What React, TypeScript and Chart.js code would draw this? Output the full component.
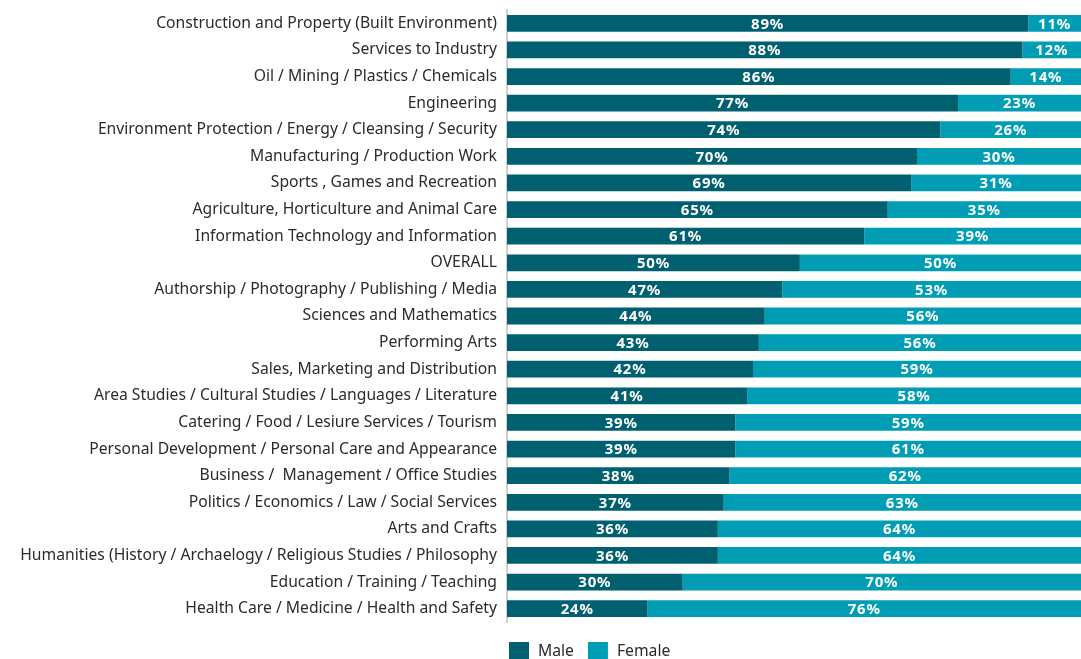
import React, { useEffect, useRef } from "react";
import { Chart, registerables } from "chart.js";

Chart.register(...registerables);

const categories: string[] = [
  "Construction and Property (Built Environment)",
  "Services to Industry",
  "Oil / Mining / Plastics / Chemicals",
  "Engineering",
  "Environment Protection / Energy / Cleansing / Security",
  "Manufacturing / Production Work",
  "Sports , Games and Recreation",
  "Agriculture, Horticulture and Animal Care",
  "Information Technology and Information",
  "OVERALL",
  "Authorship / Photography / Publishing / Media",
  "Sciences and Mathematics",
  "Performing Arts",
  "Sales, Marketing and Distribution",
  "Area Studies / Cultural Studies / Languages / Literature",
  "Catering / Food / Lesiure Services / Tourism",
  "Personal Development / Personal Care and Appearance",
  "Business /  Management / Office Studies",
  "Politics / Economics / Law / Social Services",
  "Arts and Crafts",
  "Humanities (History / Archaelogy / Religious Studies / Philosophy",
  "Education / Training / Teaching",
  "Health Care / Medicine / Health and Safety",
];

const maleValues: number[] = [89, 88, 86, 77, 74, 70, 69, 65, 61, 50, 47, 44, 43, 42, 41, 39, 39, 38, 37, 36, 36, 30, 24];
const femaleValues: number[] = [11, 12, 14, 23, 26, 30, 31, 35, 39, 50, 53, 56, 56, 59, 58, 59, 61, 62, 63, 64, 64, 70, 76];

const seriesNames: string[] = ["Male", "Female"];
const MALE_COLOR = "#00606F";
const FEMALE_COLOR = "#009DB5";
const TEXT_COLOR = "#2b2b2b";
const FONT = "'Noto Sans', 'DejaVu Sans', sans-serif";
const LABEL_SIZE = 15.7;

const labelPlugin = {
  id: "segmentLabels",
  afterDatasetsDraw(chart: any) {
    const { ctx, chartArea } = chart;
    ctx.save();
    ctx.fillStyle = "#ffffff";
    ctx.font = `bold 15px ${FONT}`;
    try {
      (ctx as any).letterSpacing = "0.8px";
    } catch (e) {}
    ctx.textAlign = "center";
    ctx.textBaseline = "middle";
    chart.data.datasets.forEach((ds: any, di: number) => {
      const meta = chart.getDatasetMeta(di);
      meta.data.forEach((el: any, i: number) => {
        const p = el.getProps(["x", "base", "y"], true);
        const left = Math.min(p.x, p.base);
        const right = Math.min(Math.max(p.x, p.base), chartArea.right);
        const cx = (left + right) / 2;
        ctx.fillText(`${ds.data[i]}%`, cx, p.y + 1);
      });
    });
    ctx.restore();
  },
};

const legendPlugin = {
  id: "bottomLegend",
  afterDraw(chart: any) {
    const { ctx, chartArea } = chart;
    ctx.save();
    ctx.font = `${LABEL_SIZE}px ${FONT}`;
    ctx.textAlign = "left";
    ctx.textBaseline = "middle";
    let x = chartArea.left + 2;
    const top = chartArea.bottom + 20;
    chart.data.datasets.forEach((ds: any) => {
      ctx.fillStyle = ds.backgroundColor;
      ctx.fillRect(x, top, 20, 20);
      ctx.fillStyle = TEXT_COLOR;
      const tx = x + 29;
      ctx.fillText(ds.label, tx, top + 10);
      x = tx + ctx.measureText(ds.label).width + 14;
    });
    ctx.restore();
  },
};

export default function App() {
  const canvasRef = useRef<HTMLCanvasElement | null>(null);

  useEffect(() => {
    if (!canvasRef.current) return;
    const chart = new Chart(canvasRef.current, {
      type: "bar",
      data: {
        labels: categories,
        datasets: [
          {
            label: seriesNames[0],
            data: maleValues,
            backgroundColor: MALE_COLOR,
            barPercentage: 0.63,
            categoryPercentage: 1,
          },
          {
            label: seriesNames[1],
            data: femaleValues,
            backgroundColor: FEMALE_COLOR,
            barPercentage: 0.63,
            categoryPercentage: 1,
          },
        ],
      },
      options: {
        indexAxis: "y",
        animation: false,
        responsive: true,
        maintainAspectRatio: false,
        layout: { padding: { top: 10, right: 0, left: 0, bottom: 37 } },
        scales: {
          x: {
            stacked: true,
            min: 0,
            max: 98,
            display: false,
            grid: { display: false },
          },
          y: {
            stacked: true,
            grid: { display: false },
            border: { display: true, color: "#d0d0d0", width: 2 },
            ticks: {
              color: TEXT_COLOR,
              font: { family: FONT, size: LABEL_SIZE },
              padding: 2,
              autoSkip: false,
            },
            afterFit: (scale: any) => {
              scale.width = 507;
              scale.paddingTop = 0;
              scale.paddingBottom = 0;
            },
          },
        },
        plugins: {
          legend: { display: false },
          tooltip: { enabled: false },
        },
      },
      plugins: [labelPlugin, legendPlugin],
    });
    return () => chart.destroy();
  }, []);

  return (
    <div
      style={{
        position: "fixed",
        left: 0,
        top: 0,
        width: 1081,
        height: 659,
        overflow: "hidden",
        background: "#ffffff",
      }}
    >
      <div style={{ position: "relative", width: 1081, height: 659 }}>
        <canvas ref={canvasRef} />
      </div>
    </div>
  );
}
